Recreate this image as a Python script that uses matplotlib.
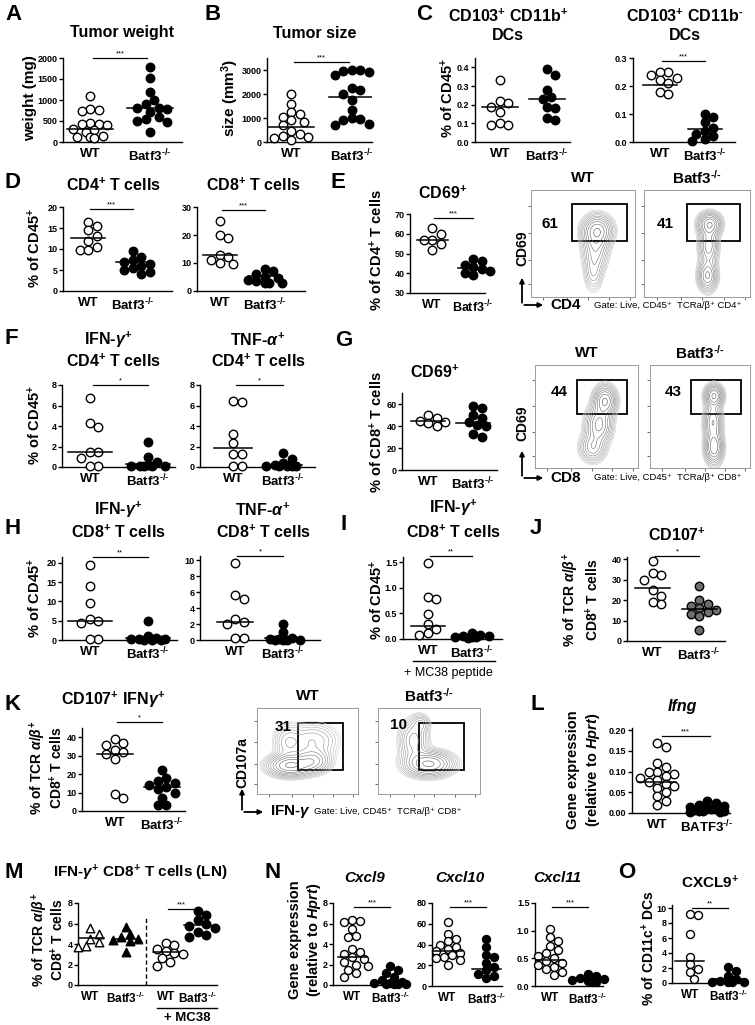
import numpy as np
import matplotlib
matplotlib.use('Agg')
import matplotlib.pyplot as plt
from matplotlib.patches import Rectangle

plt.rcParams['font.family'] = ['Liberation Sans', 'DejaVu Sans']
plt.rcParams['font.weight'] = 'bold'
plt.rcParams['mathtext.fontset'] = 'custom'
plt.rcParams['mathtext.rm'] = 'Liberation Sans:bold'
plt.rcParams['mathtext.bf'] = 'Liberation Sans:bold'
plt.rcParams['mathtext.sf'] = 'Liberation Sans:bold'
plt.rcParams['mathtext.it'] = 'Liberation Sans:italic:bold'

KO = r'Batf3$^{\text{-/-}}$'

# ---- data ----
a_wt = [1100, 780, 760, 740, 450, 440, 430, 400, 300, 280, 250, 150, 130, 120, 100]
a_ko = [1780, 1520, 1180, 1000, 900, 820, 800, 780, 720, 600, 550, 500, 480, 250]
a_med = [320, 800]
b_wt = [2000, 1600, 1250, 1150, 1050, 900, 850, 700, 450, 350, 250, 200, 150, 100]
b_ko = [3000, 3000, 2950, 2900, 2800, 2250, 2150, 2000, 1750, 1350, 1000, 950, 900, 750, 700]
b_med = [630, 1870]
c1_wt = [0.33, 0.22, 0.21, 0.19, 0.16, 0.10, 0.09, 0.09]
c1_ko = [0.39, 0.36, 0.28, 0.24, 0.23, 0.19, 0.18, 0.13, 0.12]
c1_med = [0.185, 0.23]
c2_wt = [0.25, 0.25, 0.24, 0.23, 0.22, 0.21, 0.18, 0.17]
c2_ko = [0.10, 0.09, 0.07, 0.05, 0.04, 0.03, 0.02, 0.01, 0.005]
c2_med = [0.205, 0.045]
d1_wt = [16.5, 15.5, 14.5, 13, 12, 10.5, 9.8, 9.8]
d1_ko = [9.5, 8, 7.5, 7, 6.5, 6, 5.5, 5, 4.5, 4]
d1_med = [12.7, 7.0]
d2_wt = [25, 20, 19, 13, 12, 11, 10, 9.5]
d2_ko = [8, 7, 6, 5, 4.5, 4, 3.5, 3, 3, 3]
d2_med = [13, 5.3]
e_wt = [63, 60, 57, 57, 55, 52]
e_ko = [47, 46, 44, 43, 42, 41, 40, 39]
e_med = [57, 42.5]
f1_wt = [6.7, 4.3, 3.9, 1.5, 1.5, 0.9, 0.1, 0.1]
f1_ko = [2.4, 1.0, 0.5, 0.2, 0.1, 0.05, 0.05, 0.05, 0.05]
f1_med = [1.5, 0.3]
f2_wt = [6.4, 6.3, 3.2, 2.3, 1.3, 1.3, 0.1, 0.1]
f2_ko = [1.4, 0.8, 0.4, 0.2, 0.1, 0.05, 0.05, 0.05, 0.05]
f2_med = [1.9, 0.2]
g_wt = [50, 47, 45, 44, 43, 40]
g_ko = [58, 56, 50, 47, 44, 41, 40, 33, 30]
g_med = [45, 43]
h1_wt = [19.5, 14, 9.5, 5.5, 5, 4.5, 0.3, 0.3]
h1_ko = [5.0, 1.0, 0.6, 0.3, 0.2, 0.2, 0.1, 0.1, 0.1]
h1_med = [4.8, 0.6]
h2_wt = [9.6, 5.6, 5.1, 2.6, 2.2, 2.0, 0.2, 0.2]
h2_ko = [2.0, 1.0, 0.3, 0.1, 0.1, 0.05, 0.05, 0.05, 0.05]
h2_med = [2.2, 0.3]
i_wt = [1.48, 0.82, 0.78, 0.48, 0.3, 0.2, 0.12, 0.08]
i_ko = [0.12, 0.08, 0.06, 0.05, 0.04, 0.03, 0.03, 0.02]
i_med = [0.25, 0.05]
j_wt = [39, 33, 32, 30, 25, 22, 19, 18]
j_ko = [27, 20, 18, 17, 16, 15, 14, 13, 12, 5.5]
j_med = [26, 15.5]
k_wt = [39, 37, 36, 33, 32, 31, 28, 9, 7]
k_ko = [22, 18, 16, 15, 14, 13, 12, 10, 7, 3, 3]
k_med = [31, 13]
l_wt = [0.17, 0.16, 0.12, 0.11, 0.10, 0.10, 0.095, 0.09, 0.085, 0.08, 0.075,
        0.07, 0.065, 0.06, 0.05, 0.04, 0.03, 0.02]
l_ko = [0.03, 0.025, 0.02, 0.018, 0.015, 0.012, 0.01, 0.01, 0.008, 0.006,
        0.005, 0.004, 0.003, 0.002]
l_med = [0.075, 0.01]
m_groups = [[5.6, 5.0, 4.5, 4.2, 3.8, 3.7],
            [5.7, 5.0, 4.7, 4.5, 4.4, 4.3, 3.2],
            [4.1, 3.9, 3.5, 3.3, 3.1, 3.0, 2.6, 2.2, 1.9],
            [7.2, 6.8, 6.3, 6.0, 5.8, 5.6, 5.2, 4.9, 4.7]]
m_med = [4.6, 4.5, 3.2, 5.9]
n1_wt = [6.3, 6.2, 6.1, 5.5, 4.8, 4.7, 3.5, 3.2, 3.0, 2.7, 2.5, 2.2, 2.0, 1.9, 1.5, 1.2, 0.8]
n1_ko = [1.9, 1.5, 1.2, 0.8, 0.5, 0.3, 0.2, 0.2, 0.1, 0.1, 0.1, 0.05]
n1_med = [2.7, 0.2]
n2_wt = [62, 50, 45, 43, 40, 38, 36, 34, 32, 30, 28, 27, 25, 20]
n2_ko = [45, 38, 30, 28, 22, 18, 15, 12, 10, 8]
n2_med = [34, 16]
n3_wt = [1.03, 0.88, 0.82, 0.72, 0.65, 0.6, 0.55, 0.5, 0.45, 0.42, 0.38, 0.35, 0.3, 0.25, 0.2]
n3_ko = [0.22, 0.18, 0.15, 0.12, 0.1, 0.09, 0.08, 0.07]
n3_med = [0.47, 0.13]
o_wt = [9.2, 9.1, 6.5, 3.5, 2.5, 1.9, 1.5, 0.6]
o_ko = [2.2, 1.6, 1.0, 0.5, 0.3, 0.2, 0.2, 0.1, 0.1]
o_med = [2.9, 0.5]

# contour blobs for the flow plots: (cx, cy, sx, sy, weight), axes fractions
e_wt_blobs = [(0.64, 0.62, 0.08, 0.08, 1.0), (0.62, 0.45, 0.07, 0.12, 0.55),
              (0.60, 0.22, 0.05, 0.10, 0.3)]
e_ko_blobs = [(0.62, 0.68, 0.06, 0.06, 1.0), (0.61, 0.48, 0.05, 0.10, 0.7),
              (0.60, 0.20, 0.05, 0.08, 0.8)]
g_wt_blobs = [(0.68, 0.65, 0.06, 0.08, 1.0), (0.62, 0.42, 0.07, 0.10, 0.8),
              (0.56, 0.20, 0.07, 0.08, 0.5)]
g_ko_blobs = [(0.64, 0.70, 0.05, 0.06, 1.0), (0.63, 0.45, 0.05, 0.10, 0.7),
              (0.64, 0.20, 0.05, 0.09, 0.9)]
k_wt_blobs = [(0.32, 0.33, 0.12, 0.07, 1.0), (0.55, 0.38, 0.10, 0.08, 0.6),
              (0.55, 0.62, 0.15, 0.12, 0.3), (0.30, 0.60, 0.08, 0.12, 0.25)]
k_ko_blobs = [(0.50, 0.35, 0.13, 0.08, 1.0), (0.35, 0.62, 0.08, 0.14, 0.45),
              (0.42, 0.82, 0.05, 0.06, 0.25)]

# ---- figure ----
W, H = 755, 1025
fig = plt.figure(figsize=(W / 100, H / 100), dpi=100)
ov = fig.add_axes([0, 0, 1, 1], zorder=10)
ov.set_xlim(0, W)
ov.set_ylim(H, 0)
ov.axis('off')


def px_axes(l, t, r, b):
    return fig.add_axes([l / W, 1 - b / H, (r - l) / W, (b - t) / H])


def swarm(x0, vals, ppx, ppy, d):
    # simple beeswarm in pixel space, dots may overlap once the row is full
    xs = np.zeros(len(vals))
    placed = []
    steps = [0, 1, -1, 2, -2, 3, -3, 4, -4]
    for i in np.argsort(vals)[::-1]:
        py = vals[i] * ppy
        best, best_gap = 0, -1
        for k in steps:
            px = k * d * 0.5
            gap = min([np.hypot(px - qx, py - qy) for qx, qy in placed] + [99])
            if gap >= d * 0.9:
                best = px
                break
            if gap > best_gap + 0.5:
                best, best_gap = px, gap
        placed.append((best, py))
        xs[i] = x0 + best / ppx
    return xs


def dot_panel(box, ylim, yticks, groups, xlim, xlabels, sig=None, d=8.5, xfs=9.5):
    l, t, r, b = box
    ax = px_axes(*box)
    ax.set_xlim(*xlim)
    ax.set_ylim(*ylim)
    ppx = (r - l) / (xlim[1] - xlim[0])
    ppy = (b - t) / (ylim[1] - ylim[0])
    pos = []
    for x0, vals, med, mk, fc in groups:
        xs = swarm(x0, np.array(vals, float), ppx, ppy, d)
        ax.scatter(xs, vals, s=(d * 0.72) ** 2, marker=mk, facecolor=fc,
                   edgecolor='black', linewidth=1.0, zorder=3, clip_on=False)
        ax.plot([x0 - 0.38, x0 + 0.38], [med, med], color='black', lw=1.1, zorder=4)
        pos.append(x0)
    for s in ['top', 'right']:
        ax.spines[s].set_visible(False)
    for s in ['left', 'bottom']:
        ax.spines[s].set_linewidth(1.0)
    ax.set_yticks(yticks)
    ax.tick_params(axis='y', length=3, width=1.0, labelsize=6.5, pad=1)
    ax.set_xticks(pos)
    ax.set_xticklabels(xlabels, fontsize=xfs, fontweight='bold')
    ax.tick_params(axis='x', length=0, pad=4)
    if sig:
        x1, x2, y, txt = sig
        ax.plot([x1, x2], [y, y], color='black', lw=0.9, clip_on=False)
        ax.annotate(txt, ((x1 + x2) / 2, y), xytext=(0, 0.5), textcoords='offset points',
                    ha='center', va='bottom', fontsize=5.5, fontweight='normal',
                    annotation_clip=False)
    return ax


def two(wt, ko, med, ko_fc='black'):
    return [(1, wt, med[0], 'o', 'white'), (2, ko, med[1], 'o', ko_fc)]


def flow_panel(box, blobs, gate, pct, pct_xy, title):
    ax = px_axes(*box)
    g = np.linspace(0, 1, 200)
    gx, gy = np.meshgrid(g, g)
    z = np.zeros_like(gx)
    for cx, cy, sx, sy, a in blobs:
        z += a * np.exp(-0.5 * (((gx - cx) / sx) ** 2 + ((gy - cy) / sy) ** 2))
    levels = z.max() * np.geomspace(0.05, 0.92, 11)
    cols = plt.cm.Greys(np.linspace(0.3, 0.75, len(levels)))
    ax.contour(gx, gy, z, levels=levels, colors=cols, linewidths=0.4)
    x0, x1, y0, y1 = gate
    ax.add_patch(Rectangle((x0, y0), x1 - x0, y1 - y0, fill=False, ec='black', lw=1.3))
    ax.text(pct_xy[0], pct_xy[1], pct, fontsize=11, fontweight='bold', va='center')
    ax.set_xlim(0, 1)
    ax.set_ylim(0, 1)
    ax.set_xticks([0.12, 0.35, 0.55, 0.75, 0.95])
    ax.set_yticks([0.12, 0.35, 0.6, 0.85])
    ax.tick_params(length=2, width=0.6, color='#555555', labelleft=False, labelbottom=False)
    for s in ax.spines.values():
        s.set_color('#9a9a9a')
        s.set_linewidth(0.7)
    l, t, r, b = box
    ov.text((l + r) / 2, t - 12, title, ha='center', va='center', fontsize=11)
    return ax


def letter(x, y, s):
    ov.text(x, y, s, fontsize=16, fontweight='bold', ha='left', va='center')


def title(x, y, s, fs=11.5, style='normal'):
    ov.text(x, y, s, fontsize=fs, ha='center', va='center', style=style)


def ylab(x, y, s, fs=10.5):
    ov.text(x, y, s, fontsize=fs, rotation=90, ha='center', va='center')


def axes_arrows(x, y, up, right, ylbl, xlbl, gate_txt, ylbl_y):
    ov.annotate('', xy=(x, y - up), xytext=(x, y + 0.5),
                arrowprops=dict(arrowstyle='-|>', lw=1.3, color='black', mutation_scale=7))
    ov.annotate('', xy=(x + right, y), xytext=(x - 0.5, y),
                arrowprops=dict(arrowstyle='-|>', lw=1.3, color='black', mutation_scale=7))
    ov.text(x, ylbl_y, ylbl, rotation=90, ha='center', va='center', fontsize=10)
    ov.text(x + right + 4, y, xlbl, ha='left', va='center', fontsize=11)
    ov.text(x + right + 48, y, gate_txt, ha='left', va='center', fontsize=6.8,
            fontweight='normal')


xl2 = ['WT', KO]

# ---- row 1 ----
letter(5, 14, 'A')
title(122, 33, 'Tumor weight')
ylab(30, 98, 'weight (mg)', 11)
dot_panel((63, 58, 182, 142), (0, 2000), [0, 500, 1000, 1500, 2000],
          two(a_wt, a_ko, a_med), (0.55, 2.53), xl2, (1.05, 1.95, 2000, '***'))

letter(205, 14, 'B')
title(315, 33, 'Tumor size')
ylab(230, 98, r'size (mm$^{3}$)', 11)
dot_panel((267, 58, 372, 142), (0, 3500), [0, 1000, 2000, 3000],
          two(b_wt, b_ko, b_med), (0.6, 2.33), xl2, (1.05, 1.95, 3330, '***'))

letter(416, 15, 'C')
title(508, 16, r'CD103$^{+}$ CD11b$^{+}$')
title(508, 36, 'DCs')
title(685, 16, r'CD103$^{+}$ CD11b$^{\text{-}}$')
title(685, 36, 'DCs')
ylab(448, 98, r'% of CD45$^{+}$')
dot_panel((475, 58, 570, 142), (0, 0.45), [0.0, 0.1, 0.2, 0.3, 0.4],
          two(c1_wt, c1_ko, c1_med), (0.47, 2.49), xl2)
ax = dot_panel((633, 58, 735, 142), (0, 0.3), [0.0, 0.1, 0.2, 0.3],
               two(c2_wt, c2_ko, c2_med), (0.4, 2.67), xl2, (1.05, 2.0, 0.289, '***'))
ax.set_yticklabels(['0.0', '0.1', '0.2', '0.3'])

# ---- row 2 ----
letter(5, 183, 'D')
title(113, 185, r'CD4$^{+}$ T cells')
title(253, 185, r'CD8$^{+}$ T cells')
ylab(35, 248, r'% of CD45$^{+}$')
dot_panel((63, 207, 172, 291), (0, 20), [0, 5, 10, 15, 20],
          two(d1_wt, d1_ko, d1_med), (0.44, 2.87), xl2, (1.05, 2.0, 19.5, '***'))
dot_panel((197, 207, 305, 291), (0, 30), [0, 10, 20, 30],
          two(d2_wt, d2_ko, d2_med), (0.49, 2.89), xl2, (1.05, 2.0, 29, '***'))

letter(330, 183, 'E')
title(443, 193, r'CD69$^{+}$')
ylab(377, 250, r'% of CD4$^{+}$ T cells')
dot_panel((410, 214, 485, 293), (30, 70), [30, 40, 50, 60, 70],
          two(e_wt, e_ko, e_med), (0.46, 2.29), xl2, (1.05, 2.0, 68, '***'), xfs=9)
flow_panel((531, 190, 635, 297), e_wt_blobs, (0.39, 0.92, 0.52, 0.87), '61', (0.1, 0.68), 'WT')
flow_panel((644, 190, 750, 297), e_ko_blobs, (0.41, 0.91, 0.52, 0.87), '41', (0.12, 0.68), KO)
axes_arrows(522, 305, 30, 24, 'CD69', 'CD4', r'Gate: Live, CD45⁺  TCRa/β⁺ CD4⁺', 248)

# ---- row 3 ----
letter(5, 338, 'F')
title(108, 340, r'IFN-$\gamma^{+}$')
title(113, 361, r'CD4$^{+}$ T cells')
title(258, 340, r'TNF-$\alpha^{+}$')
title(258, 361, r'CD4$^{+}$ T cells')
ylab(35, 425, r'% of CD45$^{+}$')
dot_panel((62, 385, 175, 467), (0, 8), [0, 2, 4, 6, 8],
          two(f1_wt, f1_ko, f1_med), (0.52, 2.46), xl2, (1.05, 2.0, 8.0, '*'))
dot_panel((200, 385, 315, 467), (0, 8), [0, 2, 4, 6, 8],
          two(f2_wt, f2_ko, f2_med), (0.34, 2.64), xl2, (1.05, 2.0, 8.0, '*'))

letter(335, 340, 'G')
title(435, 372, r'CD69$^{+}$')
ylab(377, 432, r'% of CD8$^{+}$ T cells')
dot_panel((402, 393, 497, 470), (0, 70), [0, 20, 40, 60],
          two(g_wt, g_ko, g_med), (0.42, 2.53), xl2)
flow_panel((535, 365, 638, 468), g_wt_blobs, (0.41, 0.89, 0.52, 0.85), '44', (0.15, 0.74), 'WT')
flow_panel((650, 365, 750, 468), g_ko_blobs, (0.41, 0.91, 0.52, 0.85), '43', (0.15, 0.74), KO)
axes_arrows(522, 478, 30, 24, 'CD69', 'CD8', r'Gate: Live, CD45⁺  TCRa/β⁺ CD8⁺', 423)

# ---- row 4 ----
letter(5, 528, 'H')
title(118, 510, r'IFN-$\gamma^{+}$')
title(118, 532, r'CD8$^{+}$ T cells')
title(263, 510, r'TNF-$\alpha^{+}$')
title(263, 532, r'CD8$^{+}$ T cells')
ylab(35, 598, r'% of CD45$^{+}$')
dot_panel((62, 557, 177, 640), (0, 21.5), [0, 5, 10, 15, 20],
          two(h1_wt, h1_ko, h1_med), (0.52, 2.5), xl2, (1.05, 2.0, 21.5, '**'))
dot_panel((200, 556, 320, 640), (0, 10.5), [0, 2, 4, 6, 8, 10],
          two(h2_wt, h2_ko, h2_med), (0.27, 2.77), xl2, (1.05, 2.0, 10.5, '*'))

letter(340, 525, 'I')
title(453, 508, r'IFN-$\gamma^{+}$')
title(453, 532, r'CD8$^{+}$ T cells')
ylab(377, 600, r'% of CD45$^{+}$')
ax = dot_panel((403, 557, 502, 639), (0, 1.6), [0.0, 0.5, 1.0, 1.5],
               two(i_wt, i_ko, i_med), (0.43, 2.69), xl2, (1.05, 2.0, 1.62, '**'))
ax.set_yticklabels(['0.0', '0.5', '1.0', '1.5'])
ov.plot([413, 495], [661, 661], color='black', lw=1.0)
ov.text(448, 673, '+ MC38 peptide', ha='center', va='center', fontsize=9, fontweight='normal')

letter(530, 528, 'J')
title(677, 535, r'CD107$^{+}$')
ylab(571, 600, r'% of TCR $\alpha/\beta^{+}$', 10)
ylab(593, 600, r'CD8$^{+}$ T cells', 10)
dot_panel((627, 557, 725, 641), (0, 41), [0, 10, 20, 30, 40],
          two(j_wt, j_ko, j_med, '#6e6e6e'), (0.45, 2.55), xl2, (1.05, 2.0, 41.5, '*'))

# ---- row 5 ----
letter(5, 705, 'K')
title(113, 700, r'CD107$^{+}$ IFN$\gamma^{+}$')
ylab(38, 768, r'% of TCR $\alpha/\beta^{+}$', 10)
ylab(57, 768, r'CD8$^{+}$ T cells', 10)
dot_panel((82, 728, 185, 811), (0, 45), [0, 10, 20, 30, 40],
          two(k_wt, k_ko, k_med), (0.3, 2.49), xl2, (1.05, 2.0, 48, '*'))
flow_panel((257, 708, 358, 794), k_wt_blobs, (0.41, 0.85, 0.28, 0.83), '31', (0.18, 0.78), 'WT')
flow_panel((378, 708, 480, 794), k_ko_blobs, (0.40, 0.84, 0.28, 0.83), '10', (0.12, 0.8), KO)
axes_arrows(242, 812, 26, 24, 'CD107a', r'IFN-$\gamma$', r'Gate: Live, CD45⁺  TCRa/β⁺ CD8⁺', 763)

letter(530, 705, 'L')
title(682, 707, 'Ifng', style='italic')
ylab(573, 770, 'Gene expression', 10.5)
ylab(593, 770, r'(relative to $\mathit{Hprt}$)', 10.5)
ax = dot_panel((632, 728, 730, 813), (0, 0.205), [0.0, 0.05, 0.1, 0.15, 0.2],
               two(l_wt, l_ko, l_med), (0.5, 2.46), ['WT', r'BATF3$^{\text{-/-}}$'],
               (1.1, 2.05, 0.185, '***'))
ax.set_yticklabels(['0.00', '0.05', '0.10', '0.15', '0.20'])

# ---- row 6 ----
letter(5, 873, 'M')
title(140, 873, r'IFN-$\gamma^{+}$ CD8$^{+}$ T cells (LN)', 11)
ylab(40, 940, r'% of TCR $\alpha/\beta^{+}$', 10)
ylab(58, 940, r'CD8$^{+}$ T cells', 10)
m_x = [1, 2, 3.15, 4.05]
m_mk = ['^', '^', 'o', 'o']
m_fc = ['white', 'black', 'white', 'black']
ax = dot_panel((78, 903, 217, 985), (0, 8), [0, 2, 4, 6, 8],
               [(m_x[i], m_groups[i], m_med[i], m_mk[i], m_fc[i]) for i in range(4)],
               (0.65, 4.6), ['WT', KO, 'WT', KO], (3.2, 4.0, 7.4, '***'), xfs=8.5)
xm = (m_x[1] + m_x[2]) / 2
ax.plot([xm, xm], [0, 6.6], color='black', lw=1.0, ls=(0, (3, 2)))
ov.plot([157, 217], [1008, 1008], color='black', lw=1.0)
ov.text(187, 1018, '+ MC38', ha='center', va='center', fontsize=9.5)

letter(265, 873, 'N')
ylab(295, 940, 'Gene expression', 10.5)
ylab(314, 940, r'(relative to $\mathit{Hprt}$)', 10.5)
title(365, 878, 'Cxcl9', 11, 'italic')
title(460, 878, 'Cxcl10', 11, 'italic')
title(557, 878, 'Cxcl11', 11, 'italic')
dot_panel((333, 903, 400, 985), (0, 8), [0, 2, 4, 6, 8],
          two(n1_wt, n1_ko, n1_med), (0.5, 2.26), xl2, (1.05, 2.0, 7.6, '***'), d=8, xfs=8.5)
dot_panel((432, 903, 502, 986), (0, 80), [0, 20, 40, 60, 80],
          two(n2_wt, n2_ko, n2_med), (0.6, 2.4), xl2, (1.05, 2.0, 76, '***'), d=8, xfs=8.5)
ax = dot_panel((535, 903, 603, 986), (0, 1.5), [0.0, 0.5, 1.0, 1.5],
               two(n3_wt, n3_ko, n3_med), (0.6, 2.4), xl2, (1.05, 2.0, 1.43, '***'),
               d=8, xfs=8.5)
ax.set_yticklabels(['0.0', '0.5', '1.0', '1.5'])

letter(618, 872, 'O')
title(710, 883, r'CXCL9$^{+}$', 11)
ylab(649, 948, r'% of CD11c$^{+}$ DCs', 10)
dot_panel((672, 905, 743, 983), (0, 10.4), [0, 2, 4, 6, 8, 10],
          two(o_wt, o_ko, o_med), (0.53, 2.39), xl2, (1.05, 2.0, 10, '**'), d=8, xfs=8.5)

fig.savefig('out.png', dpi=100)
